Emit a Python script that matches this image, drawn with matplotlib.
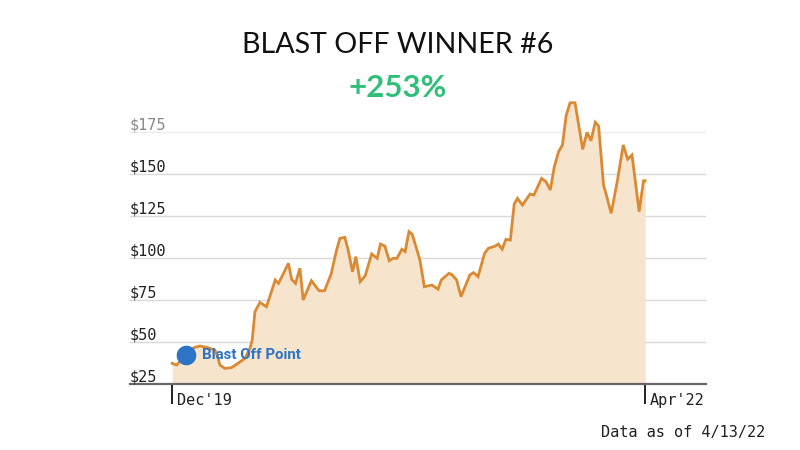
import matplotlib
matplotlib.use("Agg")
import matplotlib.pyplot as plt
import matplotlib.transforms as mtransforms

# ---- data (days since start, closing price) ----
days = [0, 8, 14, 27, 41, 51, 63, 78, 83, 87, 96, 108, 120, 133, 142, 146, 151, 160,
        172, 188, 194, 212, 218, 225, 233, 239, 254, 268, 278, 290, 300, 306, 315, 321,
        329, 335, 343, 352, 364, 374, 380, 388, 396, 403, 410, 419, 425, 432, 438, 452,
        460, 474, 485, 491, 505, 511, 519, 527, 543, 550, 558, 570, 577, 589, 595, 602,
        609, 617, 624, 630, 639, 653, 660, 674, 682, 690, 697, 705, 712, 719, 726, 735,
        749, 757, 764, 772, 778, 787, 793, 801, 812, 823, 831, 839, 852, 860, 863]
prices = [37.3, 36.3, 38.3, 44.0, 46.8, 47.6, 46.8, 45.2, 41.3, 36.3, 34.3, 34.7, 37.3,
          40.3, 46.3, 51.2, 68.0, 73.6, 71.0, 86.9, 84.9, 96.8, 87.3, 84.9, 93.9, 75.0,
          86.5, 80.5, 80.5, 90.5, 104.8, 111.7, 112.3, 104.8, 91.8, 100.8, 85.9, 89.3,
          102.4, 99.8, 108.3, 107.1, 98.4, 99.8, 99.8, 105.2, 103.8, 115.7, 114.1, 98.8,
          82.9, 83.9, 81.4, 86.9, 90.9, 89.9, 86.9, 77.0, 89.9, 91.3, 88.9, 102.8, 105.8,
          107.0, 108.3, 105.2, 111.1, 110.7, 132.0, 135.5, 131.5, 138.1, 137.5, 147.4,
          145.4, 140.5, 154.0, 163.3, 167.3, 185.1, 192.4, 192.4, 164.7, 174.8, 169.8,
          180.8, 178.6, 143.5, 136.5, 126.6, 145.4, 167.3, 158.8, 161.3, 127.6, 146.0, 146.0]

y_ticks = [25, 50, 75, 100, 125, 150, 175]
y_tick_labels = ["$25", "$50", "$75", "$100", "$125", "$150", "$175"]
x_ticks = [0, 863]
x_tick_labels = ["Dec'19", "Apr'22"]
blast_off_day = [25]
blast_off_price = [42.3]

title = "BLAST OFF WINNER #6"
gain = "+253%"
note = "Data as of 4/13/22"

# ---- style ----
line_color = "#db8a33"
fill_color = "#f6e4cd"
grid_color = "#d9d9d9"
blue = "#2c74c5"
green = "#2fbf78"
mono = "DejaVu Sans Mono"

fig = plt.figure(figsize=(8, 4.5), dpi=100)
ax = fig.add_axes([130 / 800, (450 - 384) / 450, 576 / 800, 294 / 450])
ax.set_xlim(-77, 974)
ax.set_ylim(25, 200)

# gridlines
for v in y_ticks[1:]:
    c = "#ececec" if v == 175 else grid_color
    ax.axhline(v, color=c, lw=1.0, zorder=0)

ax.fill_between(days, 25, prices, color=fill_color, lw=0, zorder=1)
ax.plot(days, prices, color=line_color, lw=2.0, zorder=2, solid_joinstyle="miter")

# blast off point
ax.scatter(blast_off_day, blast_off_price, s=200, color=blue, zorder=4, lw=0)
ax.annotate("Blast Off Point", (blast_off_day[0], blast_off_price[0]),
            xytext=(11.5, 0), textcoords="offset points", va="center", ha="left",
            fontsize=10.8, fontweight="bold", color=blue, family="Roboto", zorder=5)

# spines
for s in ["top", "right", "left"]:
    ax.spines[s].set_visible(False)
ax.spines["bottom"].set_color("#666666")
ax.spines["bottom"].set_linewidth(1.6)
ax.set_yticks([])
ax.set_xticks(x_ticks)
ax.set_xticklabels([])
ax.tick_params(axis="x", direction="out", length=14.5, width=1.3, color="#111111")

# y labels (above gridlines, left aligned)
for v, lab in zip(y_ticks, y_tick_labels):
    col = "#888888" if v == 175 else "#222222"
    ax.text(0, v, lab, transform=ax.get_yaxis_transform(), ha="left", va="bottom",
            fontsize=11, family=mono, color=col)

# x labels to the right of ticks
off = mtransforms.ScaledTranslation(5 / 100, -9 / 100, fig.dpi_scale_trans)
for x, lab in zip(x_ticks, x_tick_labels):
    ax.text(x, 0, lab, transform=ax.get_xaxis_transform() + off, ha="left", va="top",
            fontsize=11, family=mono, color="#222222")

fig.text(0.4975, 1 - 45 / 450, title, ha="center", va="center", fontsize=20.6,
         family="Lato", color="#111111")
fig.text(0.4975, 1 - 88 / 450, gain, ha="center", va="center", fontsize=22.5,
         family="Lato", fontweight="bold", color=green)
fig.text(765 / 800, 1 - 432 / 450, note, ha="right", va="center", fontsize=11,
         family=mono, color="#222222")

fig.savefig("out.png", dpi=100)
